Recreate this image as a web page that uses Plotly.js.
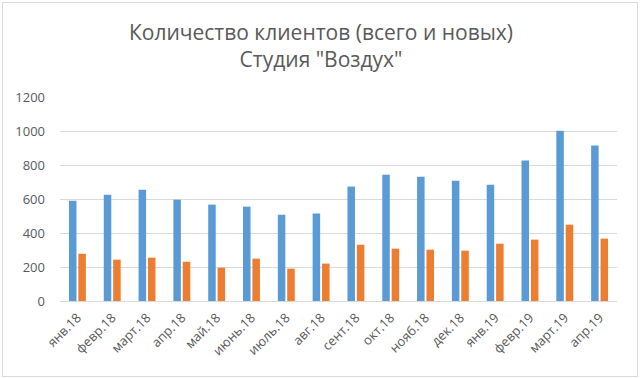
<!DOCTYPE html>
<html><head><meta charset="utf-8">
<script src="https://cdn.plot.ly/plotly-3.0.1.min.js"></script>
<style>
html,body{margin:0;padding:0;background:#fff;}
#wrap{position:relative;width:642px;height:378px;}
#chart{width:642px;height:378px;}
#frame{position:absolute;left:2px;top:2px;width:634px;height:373px;border:1px solid #d9d9d9;pointer-events:none;}
</style></head>
<body>
<div id="wrap"><div id="chart"></div><div id="frame"></div></div>
<script>
const months = ["янв.18","февр.18","март.18","апр.18","май.18","июнь.18","июль.18","авг.18","сент.18","окт.18","нояб.18","дек.18","янв.19","февр.19","март.19","апр.19"];
const totalClients = [590,625,655,596,567,555,508,514,673,743,731,708,684,826,1002,914];
const newClients = [278,243,255,231,196,249,190,220,331,308,302,296,337,361,449,367];
const yTicks = [0,200,400,600,800,1000,1200];

const font = "Open Sans, Noto Sans, sans-serif";
const traces = [
  {type:'bar', name:'Всего', x:months, y:totalClients, marker:{color:'#5B9BD5'}},
  {type:'bar', name:'Новых', x:months, y:newClients, marker:{color:'#ED7D31'}}
];
const layout = {
  width:642, height:378,
  margin:{l:60, r:25, t:97, b:77},
  paper_bgcolor:'#fff', plot_bgcolor:'#fff',
  showlegend:false,
  barmode:'group', bargap:0.46, bargroupgap:0.2,
  title:{text:'Количество клиентов (всего и новых)<br>Студия "Воздух"', font:{family:font, size:21, color:'#595959'},
         x:0.5, xanchor:'center', y:1-40/378, yanchor:'middle'},
  xaxis:{tickangle:-45, tickfont:{family:font, size:13, color:'#595959'}, showgrid:false, showline:true, linecolor:'#d9d9d9', ticks:'', ticklabelstandoff:3},
  yaxis:{range:[0,1200], tickvals:yTicks, ticktext:yTicks.map(String), tickfont:{family:font, size:13, color:'#595959'},
         gridcolor:'#d9d9d9', gridwidth:1, zeroline:false, showline:false, ticklabelstandoff:14}
};
Plotly.newPlot('chart', traces, layout, {displayModeBar:false, staticPlot:true});
</script>
</body></html>
